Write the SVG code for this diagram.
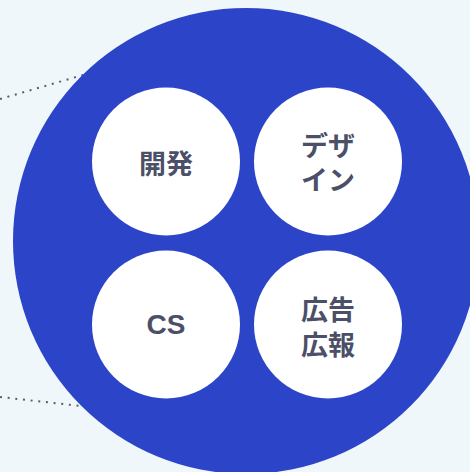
<svg xmlns="http://www.w3.org/2000/svg" width="470" height="472" viewBox="0 0 470 472">
<style>
.bg{fill:#eff7fa}
.big{fill:#2b44c8}
.node{fill:#ffffff}
.lbl{font-family:"Noto Sans CJK JP","Liberation Sans",sans-serif;font-weight:700;font-size:27px;fill:#4b4f68;text-anchor:middle;dominant-baseline:central}
.cs{font-family:"Liberation Sans","Noto Sans CJK JP",sans-serif;font-weight:700;font-size:28px;fill:#4b4f68;text-anchor:middle;dominant-baseline:central}
.dot{stroke:#5a5e6a;stroke-width:2;stroke-dasharray:2 5.7;fill:none}
</style>
<rect class="bg" x="0" y="0" width="470" height="472"/>
<g id="connectors">
<line class="dot" x1="0" y1="99" x2="90" y2="73"/>
<line class="dot" x1="0" y1="397" x2="90" y2="407"/>
</g>
<g id="team">
<circle class="big" cx="246" cy="241" r="233"/>
</g>
<g id="dev">
<circle class="node" cx="166" cy="161.5" r="74"/>
<text class="lbl" x="166" y="162">開発</text>
</g>
<g id="design">
<circle class="node" cx="328" cy="161.5" r="74"/>
<text class="lbl" x="328" y="144"><tspan x="328" y="144">デザ</tspan><tspan x="328" y="178">イン</tspan></text>
</g>
<g id="cs">
<circle class="node" cx="166" cy="324.5" r="74"/>
<text class="cs" x="166" y="324.5">CS</text>
</g>
<g id="pr">
<circle class="node" cx="328" cy="324.5" r="74"/>
<text class="lbl" x="328" y="307.5"><tspan x="328" y="307.5">広告</tspan><tspan x="328" y="342.5">広報</tspan></text>
</g>
</svg>
